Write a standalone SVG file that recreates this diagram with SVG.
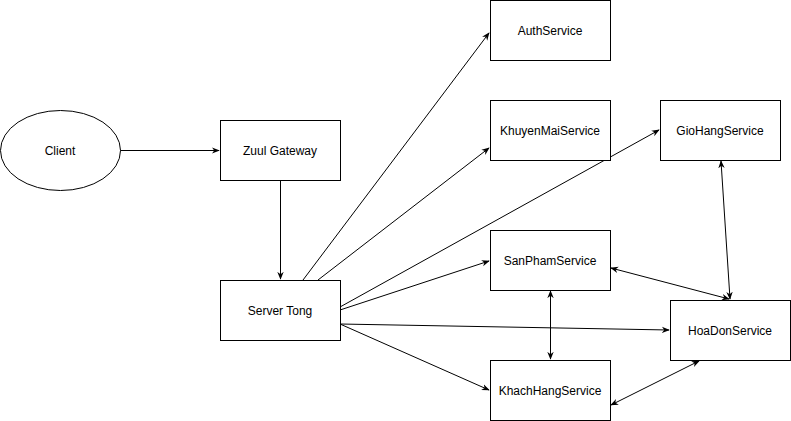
<svg xmlns="http://www.w3.org/2000/svg" width="791" height="421" viewBox="0 0 791 421">
<defs>
<marker id="ah" viewBox="0 0 10 10" refX="9" refY="5" markerWidth="8" markerHeight="8" markerUnits="userSpaceOnUse" orient="auto-start-reverse">
<path d="M0,1 L10,5 L0,9 L3,5 Z" fill="#000"/>
</marker>
<style>
.n{fill:#fff;stroke:#000;stroke-width:1}
.t{font-family:"Liberation Sans",Arial,sans-serif;font-size:12px;fill:#000;text-anchor:middle;dominant-baseline:central}
.e{fill:none;stroke:#000;stroke-width:1;marker-end:url(#ah)}
.b{marker-start:url(#ah)}
</style>
</defs>
<rect width="791" height="421" fill="#fff"/>
<g id="connectors">
<path class="e" d="M120,150.5 L219,150.5"/>
<path class="e" d="M280.5,180 L280.5,279"/>
<path class="e" d="M303,280 L489,33"/>
<path class="e" d="M318,280 L489,148"/>
<path class="e" d="M340,307 L659,130"/>
<path class="e" d="M340,310 L489,261"/>
<path class="e" d="M340,324 L669,330"/>
<path class="e" d="M340,324 L489,390"/>
<path class="e b" d="M611,268 L729,299"/>
<path class="e b" d="M721,161 L730,299"/>
<path class="e b" d="M550.5,291 L550.5,359"/>
<path class="e b" d="M611,405 L699,361"/>
</g>
<g id="client"><ellipse class="n" cx="60.5" cy="150.5" rx="60" ry="40"/><text class="t" x="60" y="151">Client</text></g>
<g id="zuul"><rect class="n" x="220.5" y="120.5" width="120" height="60"/><text class="t" x="280" y="151">Zuul Gateway</text></g>
<g id="server"><rect class="n" x="220.5" y="280.5" width="120" height="60"/><text class="t" x="280" y="311">Server Tong</text></g>
<g id="auth"><rect class="n" x="490.5" y="0.5" width="120" height="60"/><text class="t" x="550" y="31">AuthService</text></g>
<g id="khuyenmai"><rect class="n" x="490.5" y="100.5" width="120" height="60"/><text class="t" x="550" y="131">KhuyenMaiService</text></g>
<g id="giohang"><rect class="n" x="660.5" y="100.5" width="120" height="60"/><text class="t" x="720" y="131">GioHangService</text></g>
<g id="sanpham"><rect class="n" x="490.5" y="230.5" width="120" height="60"/><text class="t" x="550" y="261">SanPhamService</text></g>
<g id="hoadon"><rect class="n" x="670.5" y="300.5" width="120" height="60"/><text class="t" x="730" y="331">HoaDonService</text></g>
<g id="khachhang"><rect class="n" x="490.5" y="360.5" width="120" height="60"/><text class="t" x="550" y="391">KhachHangService</text></g>
</svg>
